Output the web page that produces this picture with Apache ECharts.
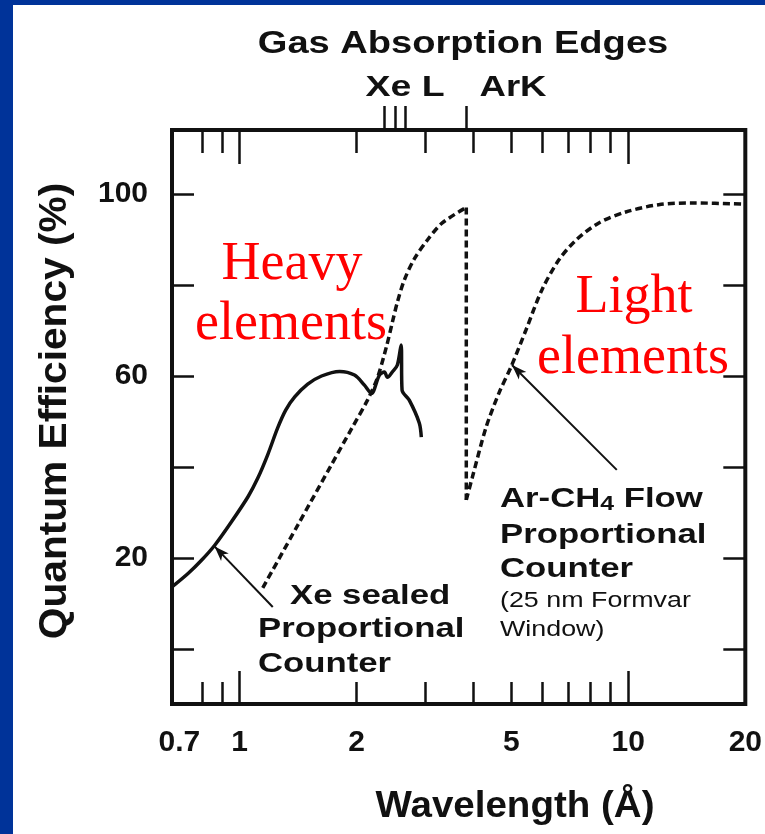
<!DOCTYPE html>
<html>
<head>
<meta charset="utf-8">
<title>Gas Absorption Edges</title>
<script src="https://cdn.jsdelivr.net/npm/echarts@6/dist/echarts.min.js"></script>
<style>
  html, body { margin: 0; padding: 0; background: #003399; width: 765px; height: 834px; overflow: hidden; }
  #panel { position: absolute; left: 13px; top: 5px; right: 0; bottom: 0; background: #ffffff; }
  #chart { position: absolute; left: 0; top: 0; width: 765px; height: 834px; }
</style>
</head>
<body>
<div id="panel"></div>
<div id="chart"></div>
<script>
// Xe sealed proportional counter: wavelength (Å) and quantum efficiency (%)
const xeWave = [0.67, 0.738, 0.799, 0.864, 0.953, 1.051, 1.114, 1.181, 1.253, 1.314, 1.386, 1.497, 1.625, 1.808, 1.975, 2.095, 2.184, 2.289, 2.358, 2.40, 2.472, 2.546, 2.603, 2.618, 2.732, 2.899, 2.934];
const xeQE   = [13.7, 16.7, 19.6, 22.9, 28.0, 33.5, 37.6, 42.7, 48.6, 52.5, 55.4, 58.2, 60.0, 61.0, 60.2, 58.0, 56.2, 60.2, 60.9, 59.7, 60.9, 62.4, 66.8, 56.9, 54.7, 49.7, 46.6];

// Ar-CH4 flow proportional counter, short-wavelength side of the Ar K edge
const arWaveLow = [1.147, 1.41, 1.725, 1.94, 2.133, 2.262, 2.386, 2.472, 2.546, 2.654, 2.815, 3.039, 3.322, 3.83];
const arQELow   = [13.5, 27.2, 40.6, 48.4, 54.7, 59.6, 66.4, 71.8, 76.2, 81.1, 85.7, 89.8, 93.6, 97.0];

// The Ar K edge itself
const arEdgeWave = [3.83, 3.83];
const arEdgeQE   = [97.0, 32.8];

// Long-wavelength side of the Ar K edge
const arWaveHigh = [3.83, 3.965, 4.308, 4.65, 4.992, 5.454, 5.994, 6.63, 7.33, 8.4, 9.85, 11.97, 14.55, 20];
const arQEHigh   = [32.8, 37.6, 48.8, 56.3, 62.0, 70.1, 78.9, 85.5, 89.8, 93.6, 96.0, 97.6, 98.0, 97.7];

// Absorption edge markers above the plot
const xeLEdges = [2.36, 2.52, 2.67];
const arKEdges = [3.83];

// Axis ticks and labels
const xLabelValues = [0.7, 1, 2, 5, 10, 20];
const xLabelTexts  = ['0.7', '1', '2', '5', '10', '20'];
const xMinorTicks  = [0.8, 0.9, 2, 3, 4, 5, 6, 7, 8, 9];
const xMajorTicks  = [1, 10];
const yLabelValues = [20, 60, 100];
const yTickValues  = [0, 20, 40, 60, 80, 100];

const ink = '#111111';
const sans = '"Liberation Sans", Arial, Helvetica, sans-serif';
const serif = '"Liberation Serif", "Times New Roman", serif';

function pairs(xs, ys) { return xs.map((x, i) => [x, ys[i]]); }

function xAxisBase(position, ticks, len, inside, extra) {
  return Object.assign({
    type: 'log', logBase: 10, min: 0.67, max: 20, position: position,
    axisLine: { show: false, onZero: false },
    splitLine: { show: false },
    axisLabel: { show: false },
    axisTick: { show: true, inside: inside, length: len, customValues: ticks,
                lineStyle: { color: ink, width: 2.5 } }
  }, extra || {});
}

const chart = echarts.init(document.getElementById('chart'), null, { renderer: 'canvas' });

const arrowLine = (from, to) => ({
  silent: true,
  symbol: ['none', 'arrow'],
  symbolSize: [8, 15],
  label: { show: false },
  lineStyle: { color: ink, width: 2, type: 'solid' },
  data: [[{ coord: from }, { coord: to }]]
});

const dashed = { color: ink, width: 3.5, type: [7, 4] };

chart.setOption({
  animation: false,
  backgroundColor: 'transparent',
  grid: { left: 172, right: 18, top: 130, bottom: 130, show: true,
          borderColor: ink, borderWidth: 4, backgroundColor: 'transparent' },
  xAxis: [
    xAxisBase('bottom', xMinorTicks, 22, true, {
      axisLabel: {
        show: true, customValues: xLabelValues, margin: 24,
        color: ink, fontFamily: sans, fontWeight: 'bold', fontSize: 30,
        formatter: v => {
          const i = xLabelValues.findIndex(t => Math.abs(t - v) < 1e-6);
          return i >= 0 ? xLabelTexts[i] : '';
        }
      }
    }),
    xAxisBase('bottom', xMajorTicks, 33, true),
    xAxisBase('top', xMinorTicks, 23, true),
    xAxisBase('top', xMajorTicks, 34, true),
    xAxisBase('top', xeLEdges.concat(arKEdges), 24, false)
  ],
  yAxis: [
    {
      type: 'value', min: -12, max: 114, position: 'left',
      axisLine: { show: false, onZero: false }, splitLine: { show: false },
      axisTick: { show: true, inside: true, length: 22, customValues: yTickValues,
                  lineStyle: { color: ink, width: 2.5 } },
      axisLabel: { show: true, customValues: yLabelValues, margin: 24,
                   color: ink, fontFamily: sans, fontWeight: 'bold', fontSize: 30 }
    },
    {
      type: 'value', min: -12, max: 114, position: 'right',
      axisLine: { show: false, onZero: false }, splitLine: { show: false },
      axisTick: { show: true, inside: true, length: 22, customValues: yTickValues,
                  lineStyle: { color: ink, width: 2.5 } },
      axisLabel: { show: false }
    }
  ],
  series: [
    {
      name: 'Xe sealed', type: 'line', xAxisIndex: 0, yAxisIndex: 0,
      data: pairs(xeWave, xeQE), symbol: 'none', smooth: 0.3,
      lineStyle: { color: ink, width: 3.5 },
      markLine: arrowLine([1.217, 9.3], [0.862, 22.6])
    },
    {
      name: 'Ar-CH4 low', type: 'line', xAxisIndex: 0, yAxisIndex: 0,
      data: pairs(arWaveLow, arQELow), symbol: 'none', smooth: 0.3,
      lineStyle: dashed
    },
    {
      name: 'Ar K edge', type: 'line', xAxisIndex: 0, yAxisIndex: 0,
      data: pairs(arEdgeWave, arEdgeQE), symbol: 'none',
      lineStyle: dashed
    },
    {
      name: 'Ar-CH4 high', type: 'line', xAxisIndex: 0, yAxisIndex: 0,
      data: pairs(arWaveHigh, arQEHigh), symbol: 'none', smooth: 0.3,
      lineStyle: dashed,
      markLine: arrowLine([9.34, 39.4], [5.02, 62.4])
    }
  ],
  graphic: [
    { type: 'text', x: 463, y: 44, scaleX: 1.19, silent: true,
      style: { text: 'Gas Absorption Edges', font: 'bold 32px ' + sans, fill: ink,
               textAlign: 'center', textVerticalAlign: 'middle' } },
    { type: 'text', x: 405, y: 88, scaleX: 1.25, silent: true,
      style: { text: 'Xe L', font: 'bold 30px ' + sans, fill: ink,
               textAlign: 'center', textVerticalAlign: 'middle' } },
    { type: 'text', x: 513, y: 88, scaleX: 1.22, silent: true,
      style: { text: 'ArK', font: 'bold 30px ' + sans, fill: ink,
               textAlign: 'center', textVerticalAlign: 'middle' } },
    { type: 'text', x: 56, y: 411, rotation: Math.PI / 2, scaleX: 1.07, silent: true,
      style: { text: 'Quantum Efficiency (%)', font: 'bold 38px ' + sans, fill: ink,
               textAlign: 'center', textVerticalAlign: 'middle' } },
    { type: 'text', x: 515, y: 807, scaleX: 1.07, silent: true,
      style: { text: 'Wavelength (Å)', font: 'bold 36px ' + sans, fill: ink,
               textAlign: 'center', textVerticalAlign: 'middle' } },

    { type: 'text', x: 292, y: 265, silent: true,
      style: { text: 'Heavy', font: '54px ' + serif, fill: '#ff0000',
               textAlign: 'center', textVerticalAlign: 'middle' } },
    { type: 'text', x: 291, y: 325, silent: true,
      style: { text: 'elements', font: '54px ' + serif, fill: '#ff0000',
               textAlign: 'center', textVerticalAlign: 'middle' } },
    { type: 'text', x: 634, y: 298, silent: true,
      style: { text: 'Light', font: '54px ' + serif, fill: '#ff0000',
               textAlign: 'center', textVerticalAlign: 'middle' } },
    { type: 'text', x: 633, y: 359, silent: true,
      style: { text: 'elements', font: '54px ' + serif, fill: '#ff0000',
               textAlign: 'center', textVerticalAlign: 'middle' } },

    { type: 'text', x: 290, y: 596, scaleX: 1.24, silent: true,
      style: { text: 'Xe sealed', font: 'bold 28px ' + sans, fill: ink,
               textAlign: 'left', textVerticalAlign: 'middle' } },
    { type: 'text', x: 258, y: 629, scaleX: 1.24, silent: true,
      style: { text: 'Proportional', font: 'bold 28px ' + sans, fill: ink,
               textAlign: 'left', textVerticalAlign: 'middle' } },
    { type: 'text', x: 258, y: 664, scaleX: 1.24, silent: true,
      style: { text: 'Counter', font: 'bold 28px ' + sans, fill: ink,
               textAlign: 'left', textVerticalAlign: 'middle' } },

    { type: 'text', x: 500, y: 499, scaleX: 1.24, silent: true,
      style: { text: '{a|Ar-CH}{s|4}{a| Flow}', fill: ink,
               textAlign: 'left', textVerticalAlign: 'middle',
               rich: {
                 a: { font: 'bold 28px ' + sans, fill: ink, lineHeight: 30 },
                 s: { font: 'bold 20px ' + sans, fill: ink, lineHeight: 10, verticalAlign: 'bottom' }
               } } },
    { type: 'text', x: 500, y: 535, scaleX: 1.24, silent: true,
      style: { text: 'Proportional', font: 'bold 28px ' + sans, fill: ink,
               textAlign: 'left', textVerticalAlign: 'middle' } },
    { type: 'text', x: 500, y: 569, scaleX: 1.24, silent: true,
      style: { text: 'Counter', font: 'bold 28px ' + sans, fill: ink,
               textAlign: 'left', textVerticalAlign: 'middle' } },
    { type: 'text', x: 500, y: 601, scaleX: 1.22, silent: true,
      style: { text: '(25 nm Formvar', font: '22px ' + sans, fill: ink,
               textAlign: 'left', textVerticalAlign: 'middle' } },
    { type: 'text', x: 500, y: 630, scaleX: 1.22, silent: true,
      style: { text: 'Window)', font: '22px ' + sans, fill: ink,
               textAlign: 'left', textVerticalAlign: 'middle' } }
  ]
});
</script>
</body>
</html>
